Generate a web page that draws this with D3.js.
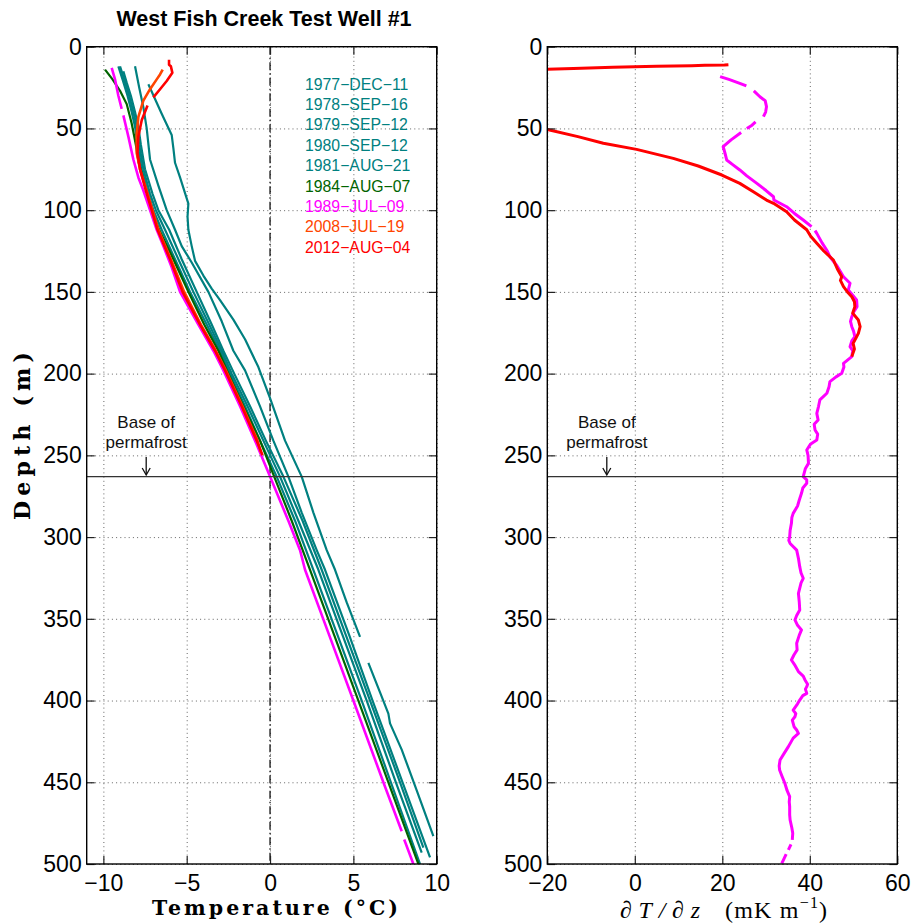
<!DOCTYPE html>
<html><head><meta charset="utf-8">
<script src="https://cdn.jsdelivr.net/npm/d3@7"></script>
<style>
body{margin:0;background:#fff;}
svg{display:block;}
</style></head>
<body>
<svg id="c" width="912" height="923"></svg>
<script>
// ---------- DATA (depth m, value) ----------
const xTicksL = [-10, -5, 0, 5, 10];
const xTicksR = [-20, 0, 20, 40, 60];
const yTicks = [0, 50, 100, 150, 200, 250, 300, 350, 400, 450, 500];
const seriesNames = ["1977\u2212DEC\u221211","1978\u2212SEP\u221216","1979\u2212SEP\u221212","1980\u2212SEP\u221212","1981\u2212AUG\u221221","1984\u2212AUG\u221207","1989\u2212JUL\u221209","2008\u2212JUL\u221219","2012\u2212AUG\u221204"];
const seriesColors = ["#008080","#008080","#008080","#008080","#008080","#006400","#ff00ff","#ff4500","#ff0000"];
const permafrostBase = 263;

const T1977 = [[23,-7.3],[32,-6.9],[41,-6.5],[54,-5.9],[62,-5.8],[71,-5.7],[80,-5.4],[96,-4.9],[104,-4.95],[112,-4.9],[122,-4.7],[131,-4.5],[140,-4.0],[148,-3.5],[155,-3.0],[167,-2.2],[179,-1.5],[196,-0.7],[215,0.0],[241,0.9],[263,1.9],[285,2.6],[308,3.4],[320,3.9],[340,4.6],[361,5.4],null,[377,5.9],[395,6.6],[408,7.1],[414,7.2],[430,7.9],[455,8.8],[483,9.8]];
const T1978 = [[12,-8.1],[25,-7.85],[37,-7.6],[50,-7.4],[69,-7.2],[85,-6.7],[100,-6.2],[112,-5.7],[122,-5.3],[132,-4.7],[150,-3.7],[168,-2.9],[186,-2.2],[198,-1.5],[220,-0.6],[241,0.2],[263,1.1],[285,1.9],[308,2.8],[320,3.3],[360,4.75],[400,6.15],[450,7.95],[496,9.6]];
const T1979 = [[12,-9.1],[20,-8.85],[30,-8.55],[40,-8.3],[49,-8.1],[60,-7.95],[75,-7.7],[90,-7.3],[100,-7.0],[112,-6.5],[130,-5.7],[150,-4.8],[170,-3.8],[186,-3.0],[200,-2.4],[220,-1.5],[241,-0.6],[263,0.4],[290,1.5],[320,2.6],[360,4.05],[400,5.5],[450,7.25],[500,9.0]];
const T1980 = [[12,-9.0],[20,-8.75],[30,-8.45],[40,-8.2],[49,-8.0],[60,-7.85],[75,-7.6],[90,-7.2],[100,-6.85],[112,-6.3],[130,-5.5],[150,-4.6],[170,-3.65],[186,-2.9],[200,-2.3],[220,-1.35],[241,-0.4],[263,0.6],[290,1.7],[320,2.9],[360,4.35],[400,5.8],[450,7.55],[493,9.1]];
const T1981 = [[15,-8.8],[22,-8.6],[30,-8.35],[40,-8.1],[49,-7.9],[60,-7.75],[75,-7.5],[90,-7.05],[100,-6.7],[112,-6.05],[130,-5.3],[150,-4.4],[170,-3.5],[186,-2.8],[200,-2.15],[220,-1.2],[241,-0.25],[263,0.8],[290,1.95],[320,3.1],[360,4.55],[400,6.0],[450,7.8],[490,9.2]];
const T1984 = [[14,-9.9],[20,-9.45],[27,-9.0],[35,-8.6],[47,-8.3],[60,-8.05],[70,-7.9],[85,-7.5],[100,-7.1],[112,-6.65],[130,-5.8],[150,-4.9],[170,-3.95],[186,-3.1],[200,-2.5],[220,-1.6],[241,-0.6],[263,0.25],[290,1.3],[320,2.4],[360,3.85],[400,5.3],[450,7.1],[500,8.9]];
const T1989 = [[13,-9.5],[20,-9.3],[30,-9.1],[38,-8.9],null,[42,-8.8],[55,-8.5],[69,-8.2],[80,-7.9],[88,-7.6],[100,-7.2],[112,-6.8],[122,-6.4],[135,-5.9],[150,-5.4],[170,-4.3],[186,-3.4],[198,-2.8],[220,-1.8],[241,-0.9],[263,0.0],[290,1.1],[308,1.8],[320,2.1],[360,3.55],[400,5.0],[450,6.8],[480,7.9],null,[485,8.05],[500,8.6]];
const T2008 = [[14,-6.44],[17,-6.6],[20,-6.8],[26,-7.2],[33,-7.6],[43,-7.9],[53,-8.0],[65,-8.0],[75,-7.8],[88,-7.4],[100,-7.05],[112,-6.7],[130,-5.95],[150,-5.15],[170,-4.15],[186,-3.25],[198,-2.65],[220,-1.65],[241,-0.75],[248,-0.55]];
const T2012 = [[8,-6.06],[11,-6.06],[12,-5.95],[16,-5.86],[21,-6.2],[26,-6.6],[31,-7.0],null,[36,-7.35],[45,-7.7],[55,-7.9],[65,-7.95],[75,-7.8],[88,-7.45],[100,-7.1],[112,-6.75],[130,-6.0],[150,-5.25],[170,-4.2],[186,-3.3],[198,-2.7],[220,-1.7],[241,-0.8],[250,-0.45]];

// gradient dT/dz (mK/m)
const G1989 = [[18.3,19.5],[20,21.5],[22.4,24.0],[24,25.5],null,[27,27.2],[30.6,28.6],[33,29.8],[36.7,30.1],[40,29.9],[42.8,29.4],null,[46,27.6],[48,26.8],[50,25.6],null,[52.5,24.3],[57,22.0],[61.2,20.2],[65,20.6],[69.3,21.0],[72,22.3],[75.4,24.0],[79,25.6],[83.6,27.9],[88,30.0],[91.8,31.7],[93.8,31.8],[97.9,34.7],[102,36.5],[106,38.5],[110.1,40.4],null,[112.5,41.2],[114.2,41.6],[120,42.8],[125,44.0],[128.5,44.6],[134,46.2],[140.7,47.7],[144.7,49.2],[148.8,48.8],[152,49.8],[155,50.7],[159,50.8],[162,50.1],[165.2,49.6],[168,49.3],[171.3,49.6],[174,50.0],[177.4,50.3],[180,49.6],[183.5,49.2],[186,49.8],[189.6,49.6],[193.7,47.7],[196,47.8],[199.8,47.3],[202,46.0],[204.9,44.6],[208,44.4],[212,43.9],[216.1,42.3],[220,42.0],[224.3,41.6],[228.4,41.9],[231,41.0],[234.5,41.2],[237,41.8],[240.6,41.6],[243,40.2],[246.7,39.3],[250,39.6],[254.9,39.7],[258,39.0],[263,38.5],[265,39.3],[267.1,39.3],[270,38.4],[273.2,38.1],[277.3,37.6],[281,37.2],[285.5,36.2],[288,35.9],[291.6,35.8],[296,35.5],[299.8,35.4],[302,35.2],[303.9,35.5],[308,37.0],[313,37.4],[318.1,37.7],[322,38.0],[325.2,38.5],[328,38.0],[334.4,37.4],[340,37.6],[344.6,37.7],[348,37.0],[350.7,36.6],[354,37.2],[356.8,38.1],[360,37.6],[365,37.0],[369,37.1],[372,36.4],[375.2,35.8],[378,36.5],[382.3,37.4],[385,38.5],[387.4,38.9],[390,39.5],[391.5,39.3],[393,39.0],[395.6,39.3],[397,38.4],[399.7,37.7],[402,37.2],[405.8,36.2],[408,36.8],[409.9,36.6],[412,36.0],[416,36.4],[418,37.0],[420.1,37.4],[423,36.2],[428.2,35.1],[432,34.2],[436.4,33.2],[440,33.0],[442.5,33.1],[446,33.6],[450.6,34.3],[455,34.8],[458.8,35.4],[462,35.3],[464.9,35.4],[470,35.4],[473.1,35.5],[478,35.9],[481.2,36.1],[485.3,36.0],null,[488,35.7],[491.4,35.1],null,[494,34.6],[499.6,33.6]];
const G2012 = [[11.0,21.4],[11.2,20.5],[11.4,16],[11.6,13],[12.0,5],[12.6,-5],[13.3,-14],[13.8,-20],[14.2,-25],[20,-55],[30,-65],[40,-45],[46,-30],[50.6,-20],[55,-13],[59.1,-7.2],[62.8,0.4],[68.3,8.8],[73,14.5],[78.5,19.9],[83.6,24.0],[88.7,27.1],[93.8,30.1],[95.8,31.7],[101,34.7],[106,36.5],[112,39.3],[116,40.2],[120.3,41.6],[125,43.2],[130.5,45.4],[136,46.3],[140.7,47.3],[143,47.0],[146.8,47.7],[150,48.6],[153,49.6],[156,50.2],[159,50.3],[163,49.8],[167.2,51.1],[171.3,51.5],[175.4,51.1],[178,50.6],[181.5,49.9],[185,50.2],[189.6,49.6]];

const tempSeries = [T1977,T1978,T1979,T1980,T1981,T1984,T1989,T2008,T2012];

// ---------- LAYOUT ----------
const svg = d3.select("#c");
const yTop = 46.7, yBot = 864;
const xL = d3.scaleLinear().domain([-11, 10]).range([86.7, 436.7]);
const xR = d3.scaleLinear().domain([-20, 60]).range([547.3, 897.3]);
const y = d3.scaleLinear().domain([0, 500]).range([yTop, yBot]);
const SANS = "'Liberation Sans', Arial, Helvetica, sans-serif";
const SERIF = "'Liberation Serif', 'DejaVu Serif', serif";
const BSERIF = "'DejaVu Serif', 'Liberation Serif', serif";
const fmt = d => d < 0 ? "\u2212" + Math.abs(d) : String(d);

function panel(x, xticks, id) {
  const g = svg.append("g");
  const x0 = x.range()[0], x1 = x.range()[1];
  g.append("g").attr("transform", `translate(0,${yBot})`)
    .call(d3.axisBottom(x).tickValues(xticks).tickSize(-(yBot - yTop)).tickFormat(""))
    .call(s => s.select(".domain").remove())
    .call(s => s.selectAll("line").attr("stroke", "#555").attr("stroke-width", 0.9).attr("stroke-dasharray", "1,3.2"));
  g.append("g").attr("transform", `translate(${x0},0)`)
    .call(d3.axisLeft(y).tickValues(yTicks).tickSize(-(x1 - x0)).tickFormat(""))
    .call(s => s.select(".domain").remove())
    .call(s => s.selectAll("line").attr("stroke", "#555").attr("stroke-width", 0.9).attr("stroke-dasharray", "1,3.2"));
  svg.append("clipPath").attr("id", id).append("rect")
    .attr("x", x0).attr("y", yTop).attr("width", x1 - x0).attr("height", yBot - yTop);
  return g;
}
function frame(x, xticks) {
  const g = svg.append("g");
  const x0 = x.range()[0], x1 = x.range()[1];
  const styleAx = s => {
    s.select(".domain").remove();
    s.selectAll("line").attr("stroke", "#222").attr("stroke-width", 1.2);
    s.selectAll("text").attr("font-family", SANS).attr("font-size", 23).attr("fill", "#000");
  };
  g.append("g").attr("transform", `translate(0,${yBot})`)
    .call(d3.axisBottom(x).tickValues(xticks).tickSize(-8).tickPadding(10.5).tickFormat(fmt)).call(styleAx);
  g.append("g").attr("transform", `translate(0,${yTop})`)
    .call(d3.axisTop(x).tickValues(xticks).tickSize(-8).tickFormat("")).call(styleAx);
  g.append("g").attr("transform", `translate(${x0},0)`)
    .call(d3.axisLeft(y).tickValues(yTicks).tickSize(-8).tickPadding(5).tickFormat(fmt)).call(styleAx);
  g.append("g").attr("transform", `translate(${x1},0)`)
    .call(d3.axisRight(y).tickValues(yTicks).tickSize(-8).tickFormat("")).call(styleAx);
  g.append("rect").attr("x", x0).attr("y", yTop).attr("width", x1 - x0).attr("height", yBot - yTop)
    .attr("fill", "none").attr("stroke", "#000").attr("stroke-width", 1.4);
}
function permafrost(x) {
  const x0 = x.range()[0], x1 = x.range()[1];
  svg.append("line").attr("x1", x0).attr("x2", x1).attr("y1", y(permafrostBase)).attr("y2", y(permafrostBase))
    .attr("stroke", "#333").attr("stroke-width", 1.3);
  const cx = x0 + 59.5;
  const t = svg.append("g").attr("font-family", SANS).attr("font-size", 17).attr("fill", "#111").attr("text-anchor", "middle");
  t.append("text").attr("x", cx).attr("y", 428).text("Base of");
  t.append("text").attr("x", cx).attr("y", 448).text("permafrost");
  svg.append("line").attr("x1", cx).attr("x2", cx).attr("y1", 457).attr("y2", 474.5)
    .attr("stroke", "#111").attr("stroke-width", 1.3);
  svg.append("path").attr("d", `M${cx - 4},${468} L${cx},${475} L${cx + 4},${468}`)
    .attr("fill", "none").attr("stroke", "#111").attr("stroke-width", 1.3);
}

// ----- left panel -----
panel(xL, xTicksL, "clipL");
svg.append("line").attr("x1", xL(0)).attr("x2", xL(0)).attr("y1", yTop).attr("y2", yBot)
  .attr("stroke", "#000").attr("stroke-width", 1.2).attr("stroke-dasharray", "8,3,1.5,3");
const lineL = d3.line().defined(d => d !== null).x(d => xL(d[1])).y(d => y(d[0]));
const gl = svg.append("g").attr("clip-path", "url(#clipL)");
tempSeries.forEach((s, i) => {
  gl.append("path").attr("d", lineL(s)).attr("fill", "none").attr("stroke", seriesColors[i])
    .attr("stroke-width", i < 6 ? 2.2 : 2.6).attr("stroke-linejoin", "round");
});
permafrost(xL);
frame(xL, xTicksL);

const leg = svg.append("g").attr("font-family", SANS).attr("font-size", 15.8);
seriesNames.forEach((n, i) => {
  leg.append("text").attr("x", 305).attr("y", 89.5 + i * 20.4).attr("fill", seriesColors[i]).text(n);
});

// ----- right panel -----
panel(xR, xTicksR, "clipR");
const lineR = d3.line().defined(d => d !== null).x(d => xR(d[1])).y(d => y(d[0]));
const gr = svg.append("g").attr("clip-path", "url(#clipR)");
gr.append("path").attr("d", lineR(G1989)).attr("fill", "none").attr("stroke", "#ff00ff").attr("stroke-width", 3).attr("stroke-linejoin", "round");
gr.append("path").attr("d", lineR(G2012)).attr("fill", "none").attr("stroke", "#ff0000").attr("stroke-width", 3).attr("stroke-linejoin", "round");
permafrost(xR);
frame(xR, xTicksR);

// ----- titles & labels -----
svg.append("text").attr("x", 264).attr("y", 26).attr("text-anchor", "middle")
  .attr("font-family", SANS).attr("font-weight", "bold").attr("font-size", 21.5).text("West Fish Creek Test Well #1");

svg.append("text").attr("x", 152).attr("y", 915).attr("textLength", 246).attr("lengthAdjust", "spacing")
  .attr("font-family", BSERIF).attr("font-weight", "bold").attr("font-size", 20.5).text("Temperature (\u00B0C)");

svg.append("text").attr("transform", "translate(30,520) rotate(-90)").attr("x", 0).attr("y", 0)
  .attr("textLength", 168).attr("lengthAdjust", "spacing")
  .attr("font-family", BSERIF).attr("font-weight", "bold").attr("font-size", 22).text("Depth (m)");

svg.append("text").attr("x", 620).attr("y", 918).attr("font-family", SERIF).attr("font-size", 24)
  .attr("font-style", "italic").attr("textLength", 80).attr("lengthAdjust", "spacing").text("\u2202T/\u2202z");
const rl = svg.append("text").attr("x", 725).attr("y", 918).attr("font-family", SERIF).attr("font-size", 24)
  .attr("letter-spacing", 1.2);
rl.append("tspan").text("(mK m");
rl.append("tspan").attr("dy", -10).attr("font-size", 16).text("\u22121");
rl.append("tspan").attr("dy", 10).text(")");
</script>
</body></html>
